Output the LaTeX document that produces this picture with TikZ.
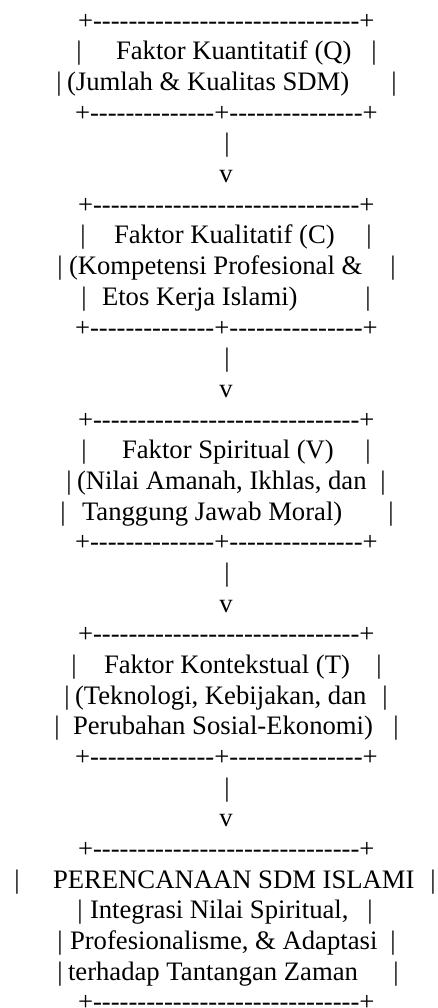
\documentclass[tikz,border=0pt]{standalone}
\usepackage{fontspec}
\setmainfont{Liberation Serif}[Ligatures=TeXOff]
\newcommand\Ly[1]{{-29.3-30.67*(#1-1)}}
\tikzset{
  txt/.style={font=\fontsize{26.67pt}{30.67pt}\selectfont, inner sep=0pt, outer sep=0pt, anchor=base west},
  bar/.style={font=\fontsize{26.67pt}{30.67pt}\selectfont, inner sep=0pt, outer sep=0pt, anchor=base},
}
\newcommand\ruleA{+------------------------------+}
\newcommand\ruleB{+--------------+---------------+}
\begin{document}
\begin{tikzpicture}[x=1pt,y=1pt]
\useasboundingbox (0,0) rectangle (438,-1008);
% Box Q
\node[txt] (r1) at (78,\Ly{1}) {\ruleA};
\node[bar] (b2l) at (79,\Ly{2}) {|};
\node[txt] (t2) at (116,\Ly{2}) {Faktor Kuantitatif (Q)};
\node[bar] (b2r) at (374,\Ly{2}) {|};
\node[bar] (b3l) at (59,\Ly{3}) {|};
\node[txt] (t3) at (67,\Ly{3}) {(Jumlah \& Kualitas SDM)};
\node[bar] (b3r) at (394,\Ly{3}) {|};
\node[txt] (r4) at (75,\Ly{4}) {\ruleB};
\node[bar] (c5) at (227,\Ly{5}) {|};
\node[bar] (v6) at (226,\Ly{6}) {v};
% Box C
\node[txt] (r7) at (78,\Ly{7}) {\ruleA};
\node[bar] (b8l) at (83,\Ly{8}) {|};
\node[txt] (t8) at (114,\Ly{8}) {Faktor Kualitatif (C)};
\node[bar] (b8r) at (369,\Ly{8}) {|};
\node[bar] (b9l) at (60,\Ly{9}) {|};
\node[txt] (t9) at (69,\Ly{9}) {(Kompetensi Profesional \&};
\node[bar] (b9r) at (393,\Ly{9}) {|};
\node[bar] (b10l) at (84,\Ly{10}) {|};
\node[txt] (t10) at (102,\Ly{10}) {Etos Kerja Islami)};
\node[bar] (b10r) at (368,\Ly{10}) {|};
\node[txt] (r11) at (75,\Ly{11}) {\ruleB};
\node[bar] (c12) at (227,\Ly{12}) {|};
\node[bar] (v13) at (226,\Ly{13}) {v};
% Box V
\node[txt] (r14) at (78,\Ly{14}) {\ruleA};
\node[bar] (b15l) at (84,\Ly{15}) {|};
\node[txt] (t15) at (122,\Ly{15}) {Faktor Spiritual (V)};
\node[bar] (b15r) at (368,\Ly{15}) {|};
\node[bar] (b16l) at (69,\Ly{16}) {|};
\node[txt] (t16) at (77,\Ly{16}) {(Nilai Amanah, Ikhlas, dan};
\node[bar] (b16r) at (383,\Ly{16}) {|};
\node[bar] (b17l) at (63,\Ly{17}) {|};
\node[txt] (t17) at (82,\Ly{17}) {Tanggung Jawab Moral)};
\node[bar] (b17r) at (391,\Ly{17}) {|};
\node[txt] (r18) at (75,\Ly{18}) {\ruleB};
\node[bar] (c19) at (227,\Ly{19}) {|};
\node[bar] (v20) at (226,\Ly{20}) {v};
% Box T
\node[txt] (r21) at (78,\Ly{21}) {\ruleA};
\node[bar] (b22l) at (74,\Ly{22}) {|};
\node[txt] (t22) at (104,\Ly{22}) {Faktor Kontekstual (T)};
\node[bar] (b22r) at (379,\Ly{22}) {|};
\node[bar] (b23l) at (67,\Ly{23}) {|};
\node[txt] (t23) at (75,\Ly{23}) {(Teknologi, Kebijakan, dan};
\node[bar] (b23r) at (385,\Ly{23}) {|};
\node[bar] (b24l) at (57,\Ly{24}) {|};
\node[txt] (t24) at (73,\Ly{24}) {Perubahan Sosial-Ekonomi)};
\node[bar] (b24r) at (396,\Ly{24}) {|};
\node[txt] (r25) at (75,\Ly{25}) {\ruleB};
\node[bar] (c26) at (227,\Ly{26}) {|};
\node[bar] (v27) at (226,\Ly{27}) {v};
% Box final
\node[txt] (r28) at (78,\Ly{28}) {\ruleA};
\node[bar] (b29l) at (17,\Ly{29}) {|};
\node[txt] (t29) at (53,\Ly{29}) {PERENCANAAN SDM ISLAMI};
\node[bar] (b29r) at (433,\Ly{29}) {|};
\node[bar] (b30l) at (80,\Ly{30}) {|};
\node[txt] (t30) at (90,\Ly{30}) {Integrasi Nilai Spiritual,};
\node[bar] (b30r) at (370,\Ly{30}) {|};
\node[bar] (b31l) at (60,\Ly{31}) {|};
\node[txt] (t31) at (70,\Ly{31}) {Profesionalisme, \& Adaptasi};
\node[bar] (b31r) at (393,\Ly{31}) {|};
\node[bar] (b32l) at (60,\Ly{32}) {|};
\node[txt] (t32) at (68,\Ly{32}) {terhadap Tantangan Zaman};
\node[bar] (b32r) at (396,\Ly{32}) {|};
\node[txt] (r33) at (78,\Ly{33}) {\ruleA};
\end{tikzpicture}
\end{document}
